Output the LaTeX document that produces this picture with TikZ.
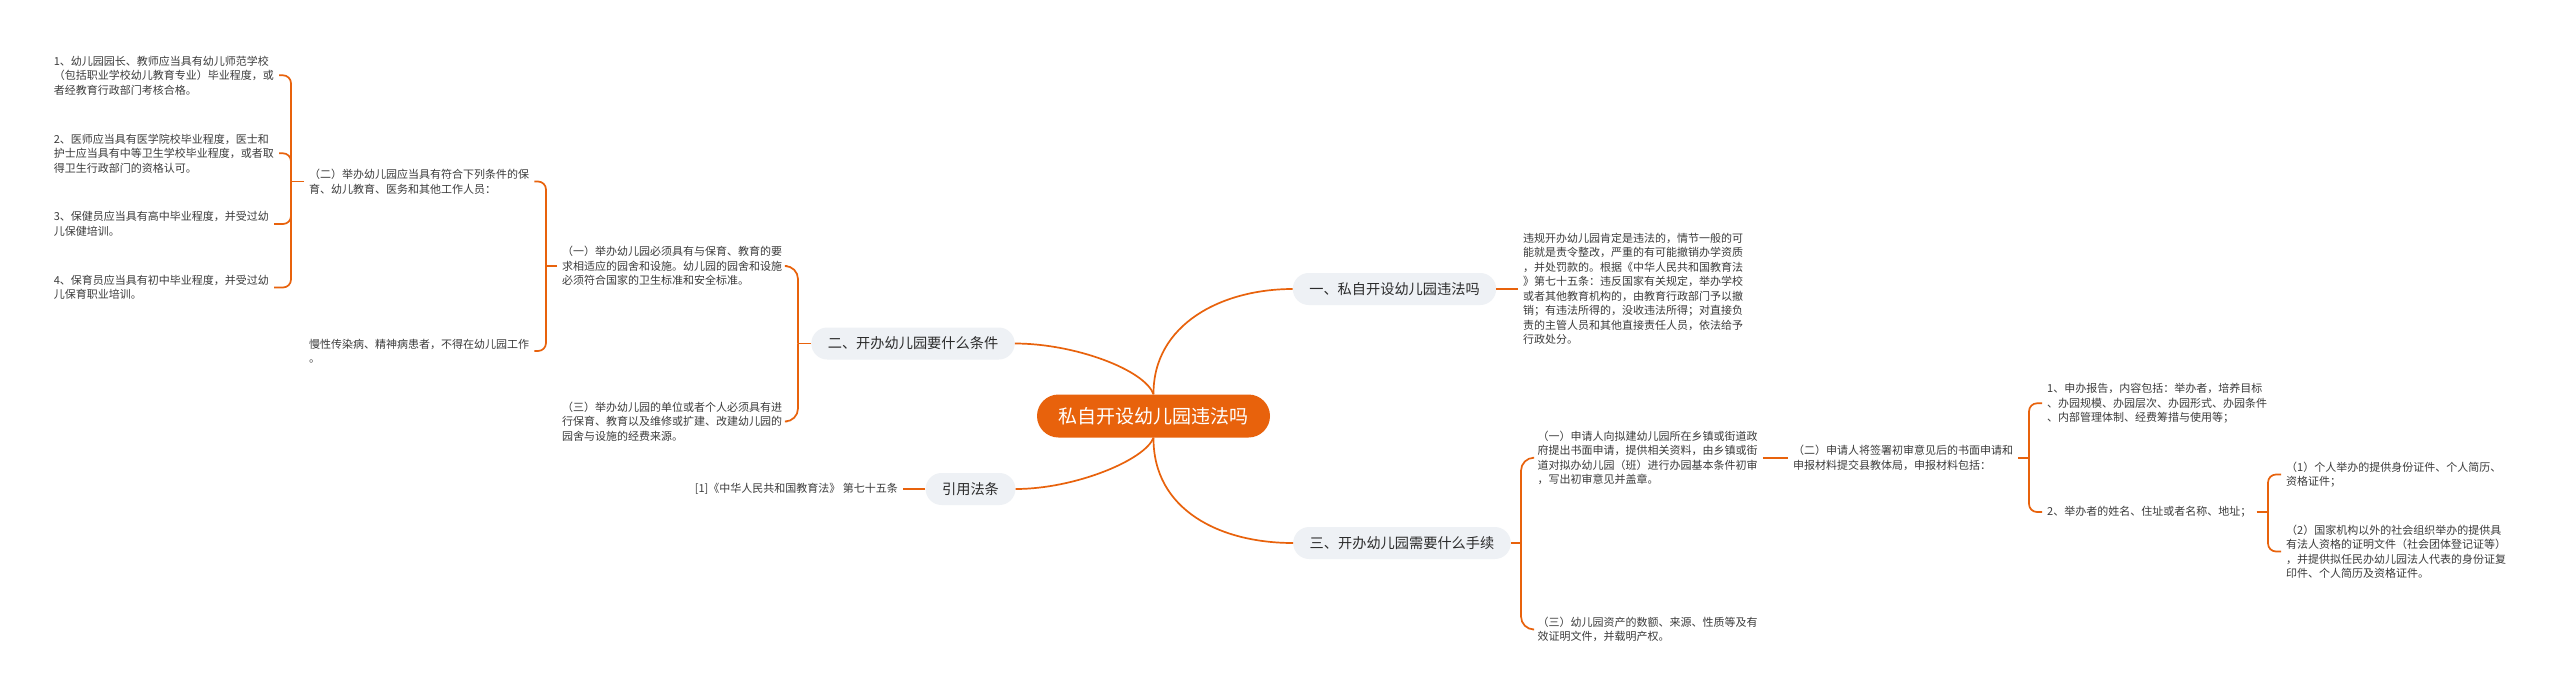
\documentclass[tikz,border=0pt]{standalone}
\usepackage{fontspec}
\newfontfamily\cjk{Noto Sans CJK SC}
\definecolor{org}{HTML}{E8620C}
\definecolor{bfill}{HTML}{EEF1F5}
\definecolor{tgray}{HTML}{3C3C3C}
\definecolor{btext}{HTML}{2B2B2B}
\begin{document}
\begin{tikzpicture}[x=1pt,y=-1pt,
  conn/.style={draw=org, line width=1.7pt},
  brc/.style={draw=org, line width=1.7pt, rounded corners=8pt},
  brcbig/.style={draw=org, line width=1.7pt, rounded corners=13pt},
  txt/.style={font=\cjk\fontsize{11}{14.5}\selectfont, text=tgray, align=left, inner xsep=5pt, inner ysep=0pt},
  branch/.style={fill=bfill, rounded corners=16pt, font=\cjk\fontsize{14.2}{16}\selectfont, text=btext, inner xsep=16.5pt, inner ysep=0pt, minimum height=32pt},
  rootnode/.style={fill=org, rounded corners=21.5pt, font=\cjk\fontsize{19}{22}\selectfont, text=white, inner xsep=21.5pt, inner ysep=0pt, minimum height=43pt}]
\fill[white] (0,0) rectangle (2560,697);
\useasboundingbox (0,0) rectangle (2560,697);

% main nodes
\node[rootnode] (root) at (1153.5,416) {私自开设幼儿园违法吗};
\node[branch] (b1) at (1394.5,289) {一、私自开设幼儿园违法吗};
\node[branch] (b2) at (913,343.5) {二、开办幼儿园要什么条件};
\node[branch] (b3) at (970.5,489) {引用法条};
\node[branch] (b4) at (1402,543) {三、开办幼儿园需要什么手续};

% branch one text
\node[txt, anchor=west] (t1) at (1518,289) {违规开办幼儿园肯定是违法的，情节一般的可\\能就是责令整改，严重的有可能撤销办学资质\\，并处罚款的。根据《中华人民共和国教育法\\》第七十五条：违反国家有关规定，举办学校\\或者其他教育机构的，由教育行政部门予以撤\\销；有违法所得的，没收违法所得；对直接负\\责的主管人员和其他直接责任人员，依法给予\\行政处分。};

% citation
\node[txt, anchor=east] (ref) at (903,489) {[1]《中华人民共和国教育法》 第七十五条};

% branch two
\node[txt, anchor=west] (a1) at (557,266) {（一）举办幼儿园必须具有与保育、教育的要\\求相适应的园舍和设施。幼儿园的园舍和设施\\必须符合国家的卫生标准和安全标准。};
\node[txt, anchor=west] (a3) at (557,421.5) {（三）举办幼儿园的单位或者个人必须具有进\\行保育、教育以及维修或扩建、改建幼儿园的\\园舍与设施的经费来源。};
\node[txt, anchor=west] (a2) at (304,181.5) {（二）举办幼儿园应当具有符合下列条件的保\\育、幼儿教育、医务和其他工作人员：};
\node[txt, anchor=west] (a4) at (304,351) {慢性传染病、精神病患者，不得在幼儿园工作\\。};
\node[txt, anchor=west] (i1) at (48.6,75.3) {1、幼儿园园长、教师应当具有幼儿师范学校\\（包括职业学校幼儿教育专业）毕业程度，或\\者经教育行政部门考核合格。};
\node[txt, anchor=west] (i2) at (48.6,153.3) {2、医师应当具有医学院校毕业程度，医士和\\护士应当具有中等卫生学校毕业程度，或者取\\得卫生行政部门的资格认可。};
\node[txt, anchor=west] (i3) at (48.6,224) {3、保健员应当具有高中毕业程度，并受过幼\\儿保健培训。};
\node[txt, anchor=west] (i4) at (48.6,287.5) {4、保育员应当具有初中毕业程度，并受过幼\\儿保育职业培训。};

% branch three
\node[txt, anchor=west] (c1) at (1532.5,457.7) {（一）申请人向拟建幼儿园所在乡镇或街道政\\府提出书面申请，提供相关资料，由乡镇或街\\道对拟办幼儿园（班）进行办园基本条件初审\\，写出初审意见并盖章。};
\node[txt, anchor=west] (c3) at (1532.5,629.5) {（三）幼儿园资产的数额、来源、性质等及有\\效证明文件，并载明产权。};
\node[txt, anchor=west] (c2) at (1788,458) {（二）申请人将签署初审意见后的书面申请和\\申报材料提交县教体局，申报材料包括：};
\node[txt, anchor=west] (d1) at (2042,403.3) {1、申办报告，内容包括：举办者，培养目标\\、办园规模、办园层次、办园形式、办园条件\\、内部管理体制、经费筹措与使用等；};
\node[txt, anchor=west] (d2) at (2042,512) {2、举办者的姓名、住址或者名称、地址；};
\node[txt, anchor=west] (e1) at (2281,474.5) {（1）个人举办的提供身份证件、个人简历、\\资格证件；};
\node[txt, anchor=west] (e2) at (2281,551.5) {（2）国家机构以外的社会组织举办的提供具\\有法人资格的证明文件（社会团体登记证等）\\，并提供拟任民办幼儿园法人代表的身份证复\\印件、个人简历及资格证件。};

% main curves
\draw[conn] (root.north) .. controls (1153,324) and (1222,289) .. (b1.west);
\draw[conn] (root.north) .. controls (1145,370) and (1075,343.5) .. (b2.east);
\draw[conn] (root.south) .. controls (1145,460) and (1075,489) .. (b3.east);
\draw[conn] (root.south) .. controls (1153,510) and (1220,543) .. (b4.west);

% straight stubs
\draw[conn] (b1.east) -- (t1.west);
\draw[conn] (b3.west) -- (ref.east);
\draw[conn] (c1.east) -- (c1.east -| c2.west);

% brackets
\coordinate (k2) at (798,343.5);
\draw[conn] (b2.west) -- (k2);
\draw[brcbig] (k2) |- (a1.east);
\draw[brcbig] (k2) |- (a3.east);

\coordinate (k21) at (546,266);
\draw[conn] (a1.west) -- (k21);
\draw[brc] (k21) |- (a2.east);
\draw[brc] (k21) |- (a4.east);

\coordinate (k22) at (291,181.5);
\draw[conn] (a2.west) -- (k22);
\draw[brc] (k22) |- (i1.east);
\draw[brc] (k22) |- (i2.east);
\draw[brc] (k22) |- (i3.east);
\draw[brc] (k22) |- (i4.east);

\coordinate (k4) at (1521,543);
\draw[conn] (b4.east) -- (k4);
\draw[brcbig] (k4) |- (c1.west);
\draw[brcbig] (k4) |- (c3.west);

\coordinate (k5) at (2029,458);
\draw[conn] (c2.east) -- (k5);
\draw[brc] (k5) |- (d1.west);
\draw[brc] (k5) |- (d2.west);

\coordinate (k6) at (2268,512);
\draw[conn] (d2.east) -- (k6);
\draw[brc] (k6) |- (e1.west);
\draw[brc] (k6) |- (e2.west);
\end{tikzpicture}
\end{document}
